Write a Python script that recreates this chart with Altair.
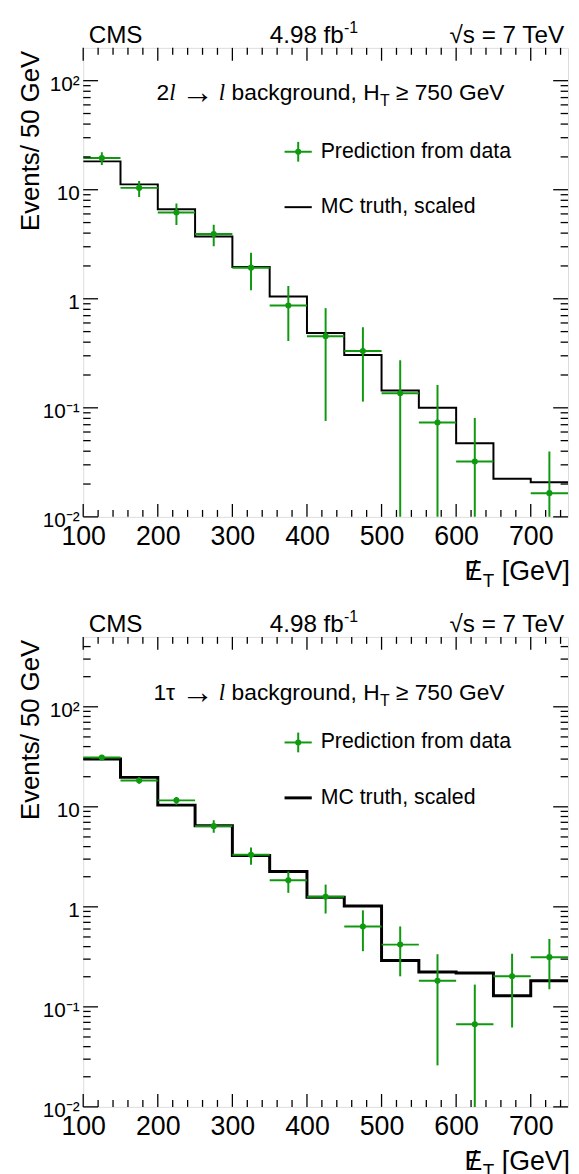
import altair as alt
import pandas as pd

# ---------------- data ----------------
bin_lo = [100, 150, 200, 250, 300, 350, 400, 450, 500, 550, 600, 650, 700]
bin_hi = [150, 200, 250, 300, 350, 400, 450, 500, 550, 600, 650, 700, 750]

# top panel: 2l -> l background
mc_top = [18.2, 11.2, 6.62, 3.72, 1.96, 1.05, 0.486, 0.305, 0.144, 0.100, 0.0473, 0.0224, 0.0208]
pred_top = [19.5, 10.4, 6.18, 3.93, 1.93, 0.867, 0.454, 0.332, 0.136, 0.0733, 0.0322, None, 0.0165]
pred_top_up = [22.1, 12.0, 7.46, 4.78, 2.64, 1.31, 0.82, 0.548, 0.273, 0.162, 0.0807, None, 0.0397]
pred_top_down = [16.9, 8.6, 4.74, 3.03, 1.20, 0.41, 0.0758, 0.114, 0.005, 0.005, 0.005, None, 0.005]

# bottom panel: 1tau -> l background
mc_bot = [30.0, 19.7, 10.4, 6.46, 3.26, 2.26, 1.25, 1.02, 0.290, 0.223, 0.218, 0.129, 0.182]
pred_bot = [31.1, 18.3, 11.6, 6.41, 3.31, 1.84, 1.26, 0.637, 0.419, 0.182, 0.0671, 0.202, 0.314]
pred_bot_up = [32.9, 19.7, 12.5, 7.34, 3.91, 2.26, 1.67, 0.923, 0.637, 0.336, 0.167, 0.339, 0.476]
pred_bot_down = [29.5, 17.0, 10.5, 5.51, 2.64, 1.38, 0.857, 0.360, 0.202, 0.026, 0.005, 0.0622, 0.150]

x_major = [100, 200, 300, 400, 500, 600, 700]
x_minor = [120, 140, 160, 180, 220, 240, 260, 280, 320, 340, 360, 380, 420, 440, 460, 480,
           520, 540, 560, 580, 620, 640, 660, 680, 720, 740]
y_major = [0.01, 0.1, 1, 10, 100]
y_major_labels = ["10⁻²", "10⁻¹", "1", "10", "10²"]
y_minor_top = [0.02, 0.03, 0.04, 0.05, 0.06, 0.07, 0.08, 0.09,
               0.2, 0.3, 0.4, 0.5, 0.6, 0.7, 0.8, 0.9,
               2, 3, 4, 5, 6, 7, 8, 9,
               20, 30, 40, 50, 60, 70, 80, 90]
y_minor_bot = y_minor_top + [200, 300, 400]

y_max_top = 200
y_max_bot = 500

legend_pred = "Prediction from data"
legend_mc = "MC truth, scaled"
y_title = "Events/ 50 GeV"
hdr_left = "CMS"
hdr_mid = "4.98 fb"
hdr_mid_sup = "-1"
hdr_right = "√s = 7 TeV"

# ---------------- style ----------------
GREEN = "#0f990f"
FONT = "Liberation Sans"
SERIF = "Liberation Serif"
W = 490
H_TOP = 474
H_BOT = 475

label_expr = ""
for v, lab in zip(y_major, y_major_labels):
    label_expr += f"datum.value < {v * 1.5} ? '{lab}' : "
label_expr += "''"

one = pd.DataFrame({"k": [0]})


def txt(text, x, y, size, align="left", baseline="alphabetic", font=FONT, style="normal", angle=0):
    kw = dict(text=text, align=align, baseline=baseline, fontSize=size, font=font,
              color="black", fontStyle=style)
    if angle:
        kw["angle"] = angle
    return alt.Chart(one).mark_text(**kw).encode(x=alt.value(x), y=alt.value(y))


def panel(mc, pred, up, down, ymax, y_minor, H, mc_width, ann, ann_y, leg_y1, leg_y2):
    xscale = alt.Scale(domain=[100, 750], nice=False, zero=False)
    yscale = alt.Scale(type="log", domain=[0.01, ymax], nice=False)
    xaxis = alt.Axis(values=x_major, format="d", ticks=False, tickSize=0, domain=False, grid=False,
                     labelFontSize=27, labelPadding=7, labelFlush=False, labelOverlap=False,
                     labelFont=FONT, labelColor="black", title=None)
    yaxis = alt.Axis(values=y_major, labelExpr=label_expr, ticks=False, tickSize=0, domain=False,
                     grid=False, labelFontSize=21, labelPadding=4, labelOffset=4,
                     labelOverlap=False, labelFlush=False, labelBound=False,
                     labelFont=FONT, labelColor="black", title=None)

    def X(f):
        return alt.X(f, type="quantitative", scale=xscale, axis=xaxis)

    def Y(f):
        return alt.Y(f, type="quantitative", scale=yscale, axis=yaxis)

    mc_df = pd.DataFrame({"x": bin_lo + [bin_hi[-1]], "y": mc + [mc[-1]]})
    rows = []
    for lo, hi, v, u, d in zip(bin_lo, bin_hi, pred, up, down):
        if v is None:
            continue
        rows.append({"lo": lo, "hi": hi, "c": (lo + hi) / 2, "y": v, "eu": u, "ed": d})
    pdf = pd.DataFrame(rows)

    layers = []
    layers.append(alt.Chart(mc_df).mark_line(interpolate="step-after", color="black",
                                             strokeWidth=mc_width, clip=True)
                  .encode(x=X("x"), y=Y("y")))
    layers.append(alt.Chart(pdf).mark_rule(color=GREEN, strokeWidth=2, clip=True)
                  .encode(x=X("lo"), x2="hi", y=Y("y")))
    layers.append(alt.Chart(pdf).mark_rule(color=GREEN, strokeWidth=2, clip=True)
                  .encode(x=X("c"), y=Y("ed"), y2="eu"))
    layers.append(alt.Chart(pdf).mark_circle(color=GREEN, size=38, opacity=1)
                  .encode(x=X("c"), y=Y("y")))

    # inward ticks on all four sides
    for vals, L in ((x_major, 13), (x_minor, 7)):
        d = alt.Chart(pd.DataFrame({"v": vals}))
        layers.append(d.mark_rule(color="black", strokeWidth=1.3)
                      .encode(x=X("v"), y=alt.value(H), y2=alt.value(H - L)))
        layers.append(d.mark_rule(color="black", strokeWidth=1.3)
                      .encode(x=X("v"), y=alt.value(0), y2=alt.value(L)))
    for vals, L in ((y_major, 15), (y_minor, 7.5)):
        d = alt.Chart(pd.DataFrame({"v": vals}))
        layers.append(d.mark_rule(color="black", strokeWidth=1.3)
                      .encode(y=Y("v"), x=alt.value(0), x2=alt.value(L)))
        layers.append(d.mark_rule(color="black", strokeWidth=1.3)
                      .encode(y=Y("v"), x=alt.value(W), x2=alt.value(W - L)))

    # header
    layers.append(txt(hdr_left, 5.5, -5, 24.5))
    layers.append(txt(hdr_mid, 188.5, -5, 24.5))
    layers.append(txt(hdr_mid_sup, 263.5, -15, 16))
    layers.append(txt(hdr_right, 486, -5, 24.5, align="right"))

    # annotation pieces
    for t, x, dy, size, font, style in ann:
        layers.append(txt(t, x, ann_y + dy, size, font=font, style=style))

    # legend
    layers.append(alt.Chart(one).mark_rule(color=GREEN, strokeWidth=2)
                  .encode(x=alt.value(203.5), x2=alt.value(231), y=alt.value(leg_y1)))
    layers.append(alt.Chart(one).mark_rule(color=GREEN, strokeWidth=2)
                  .encode(x=alt.value(217.3), y=alt.value(leg_y1 - 10), y2=alt.value(leg_y1 + 10)))
    layers.append(alt.Chart(one).mark_circle(color=GREEN, size=38, opacity=1)
                  .encode(x=alt.value(217.3), y=alt.value(leg_y1)))
    layers.append(txt(legend_pred, 240, leg_y1, 21.5, baseline="middle"))
    layers.append(alt.Chart(one).mark_rule(color="black", strokeWidth=mc_width)
                  .encode(x=alt.value(203.5), x2=alt.value(231), y=alt.value(leg_y2)))
    layers.append(txt(legend_mc, 240, leg_y2, 21.5, baseline="middle"))

    # axis titles
    layers.append(txt(y_title, -44.7, 3, 26, align="right", angle=270))
    layers.append(txt("[GeV]", W + 2, H + 64, 27, align="right"))
    layers.append(txt("T", W - 74.5, H + 71, 19, align="right"))
    layers.append(txt("E", W - 86.6, H + 64, 27, align="right"))
    layers.append(txt("/", W - 95.5, H + 64, 27, align="center"))

    return alt.layer(*layers).properties(width=W, height=H)


FS = 23
ann_top = [
    ("2", 74, 0, FS, FONT, "normal"),
    ("l", 87, 0, FS, SERIF, "italic"),
    ("→", 99, 3, 33, FONT, "normal"),
    ("l", 137, 0, FS, SERIF, "italic"),
    ("background, H", 150, 0, FS, FONT, "normal"),
    ("T", 300, 6, 16, FONT, "normal"),
    ("≥ 750 GeV", 316, 0, FS, FONT, "normal"),
]
ann_bot = [
    ("1τ", 71, 0, FS, FONT, "normal"),
    ("→", 99, 3, 33, FONT, "normal"),
    ("l", 137, 0, FS, SERIF, "italic"),
    ("background, H", 150, 0, FS, FONT, "normal"),
    ("T", 300, 6, 16, FONT, "normal"),
    ("≥ 750 GeV", 316, 0, FS, FONT, "normal"),
]

top = panel(mc_top, pred_top, pred_top_up, pred_top_down, y_max_top, y_minor_top, H_TOP, 2,
            ann_top, 52.7, 105, 161)
bot = panel(mc_bot, pred_bot, pred_bot_up, pred_bot_down, y_max_bot, y_minor_bot, H_BOT, 3,
            ann_bot, 64, 106.7, 162.7)

chart = (
    alt.vconcat(top, bot, spacing=121.3, bounds="flush")
    .properties(padding={"left": 9, "top": 5, "right": 0, "bottom": 0}, background="white")
    .configure_view(stroke="black", strokeWidth=1.5)
    .configure(font=FONT)
)

chart.save("out.html", embed_options={"renderer": "svg", "actions": False})
